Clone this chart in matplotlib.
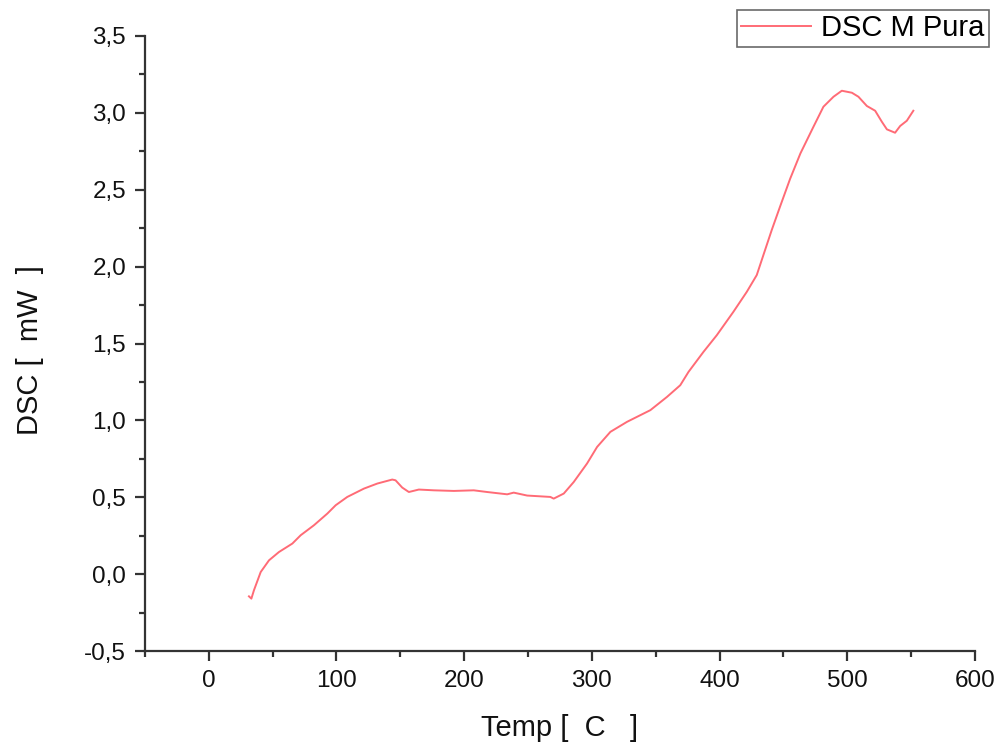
import matplotlib
matplotlib.use("Agg")
import matplotlib.pyplot as plt
from matplotlib.ticker import MultipleLocator, FuncFormatter

plt.rcParams['font.family'] = ['Liberation Sans', 'DejaVu Sans']

temp = [31.5, 33.4, 35.4, 40.7, 47.2, 55.0, 65.5, 72.0, 82.4, 92.9, 99.4, 108.5,
        121.5, 132.0, 143.7, 146.3, 151.5, 156.7, 164.5, 176.3, 191.9, 207.5,
        218.0, 233.7, 238.8, 249.3, 267.5, 270.1, 278.0, 285.8, 296.2, 304.1,
        314.5, 327.5, 345.8, 358.8, 369.2, 375.7, 387.4, 397.8, 410.8, 421.3,
        429.1, 434.3, 440.8, 447.3, 455.2, 463.3, 473.5, 481.3, 489.2, 495.7,
        503.6, 508.7, 515.3, 521.8, 527.0, 531.0, 537.4, 541.4, 546.6, 551.7]
dsc = [-0.143, -0.158, -0.104, 0.015, 0.091, 0.145, 0.200, 0.254, 0.319, 0.395,
       0.449, 0.503, 0.557, 0.590, 0.616, 0.611, 0.564, 0.535, 0.551, 0.546,
       0.542, 0.546, 0.535, 0.520, 0.531, 0.512, 0.503, 0.492, 0.525, 0.600,
       0.720, 0.828, 0.926, 0.991, 1.067, 1.153, 1.229, 1.316, 1.446, 1.554,
       1.706, 1.836, 1.945, 2.075, 2.237, 2.389, 2.570, 2.736, 2.909, 3.039,
       3.104, 3.143, 3.130, 3.104, 3.044, 3.013, 2.942, 2.892, 2.870, 2.914,
       2.948, 3.013]

series_label = "DSC M Pura"
x_label = "Temp [  C   ]"
y_label = "DSC [  mW  ]"

fig = plt.figure(figsize=(9.99, 7.46), dpi=100)
ax = fig.add_axes([0.145, 0.127, 0.831, 0.825])

ax.plot(temp, dsc, color='#ff6b76', lw=1.4, label=series_label)

ax.set_xlim(-50, 600)
ax.set_ylim(-0.5, 3.5)
ax.xaxis.set_major_locator(MultipleLocator(100))
ax.xaxis.set_minor_locator(MultipleLocator(50))
ax.yaxis.set_major_locator(MultipleLocator(0.5))
ax.yaxis.set_minor_locator(MultipleLocator(0.25))
ax.yaxis.set_major_formatter(FuncFormatter(lambda v, p: f"{v:.1f}".replace('.', ',')))
ax.xaxis.set_major_formatter(FuncFormatter(lambda v, p: f"{v:.0f}"))

for s in ['top', 'right']:
    ax.spines[s].set_visible(False)
for s in ['left', 'bottom']:
    ax.spines[s].set_linewidth(1.6)
    ax.spines[s].set_color('#333333')

ax.tick_params(which='major', direction='out', length=7.5, width=1.6, color='#333333',
               labelsize=17.5, pad=6, labelcolor='#111111')
ax.tick_params(which='minor', direction='out', length=4, width=1.6, color='#333333')

ax.set_xlabel(x_label, fontsize=21, color='#111111')
ax.set_ylabel(y_label, fontsize=21, color='#111111')
ax.xaxis.set_label_coords(0.499, -0.102)
ax.yaxis.set_label_coords(-0.121, 0.49)

leg = ax.legend(loc='upper right', bbox_to_anchor=(1.017, 1.042), fontsize=21,
                frameon=True, fancybox=False, borderaxespad=0, borderpad=0.15,
                handlelength=2.4, handletextpad=0.35)
leg.get_frame().set_edgecolor('#444444')
leg.get_frame().set_linewidth(1.2)

fig.savefig("out.png", dpi=100)
